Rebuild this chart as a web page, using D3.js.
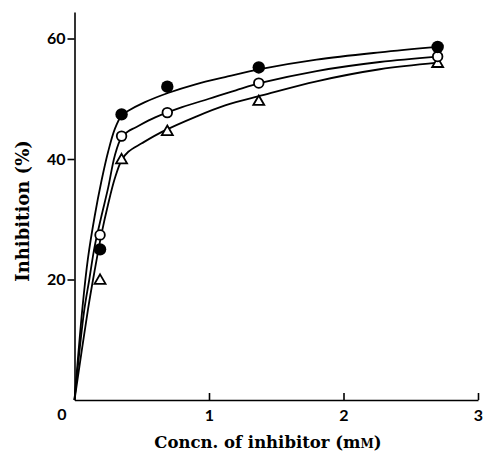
<!DOCTYPE html>
<html lang="en">
<head>
    <meta charset="UTF-8">
    <title>Inhibition vs. concentration of inhibitor</title>
    <style>
        body { margin: 0; background: #fff; }
        #chart { width: 483px; height: 453px; }
        .axis path, .axis line { stroke: #000; stroke-width: 1.6; }
        .axis text { font-family: Lato, "Open Sans", sans-serif; font-size: 16px; font-weight: bold; fill: #000; }
        .title { font-family: "DejaVu Serif", serif; font-weight: bold; fill: #000; }
        .curve { fill: none; stroke: #000; stroke-width: 1.8; }
    </style>
</head>
<body>
    <div id="chart"></div>
    <script src="https://cdnjs.cloudflare.com/ajax/libs/d3/7.8.5/d3.min.js"></script>
    <script>
        // measured points
        const concn = [0.19, 0.35, 0.69, 1.37, 2.70];
        const filledPts = [25.0, 47.4, 52.0, 55.2, 58.6];
        const openPts = [27.4, 43.8, 47.7, 52.6, 57.0];
        const trianglePts = [19.8, 39.8, 44.5, 49.5, 55.8];

        // hand-drawn curves
        const filledCurveX = [0, 0.06, 0.1, 0.15, 0.2, 0.25, 0.3, 0.35, 0.4, 0.52, 0.7, 0.9, 1.12, 1.4, 1.8, 2.27, 2.7];
        const filledCurveY = [0, 15.5, 23.5, 30.5, 36.3, 41.2, 45.0, 47.2, 48.0, 49.4, 51.0, 52.4, 53.6, 55.0, 56.5, 57.7, 58.6];
        const openCurveX = [0, 0.07, 0.11, 0.15, 0.2, 0.25, 0.3, 0.35, 0.4, 0.45, 0.6, 0.8, 1.0, 1.2, 1.4, 1.8, 2.27, 2.7];
        const openCurveY = [0, 14.5, 20.0, 25.5, 30.5, 35.2, 40.6, 43.6, 44.6, 45.2, 46.9, 48.6, 50.0, 51.4, 52.7, 54.6, 56.1, 57.0];
        const triangleCurveX = [0, 0.1, 0.15, 0.2, 0.25, 0.3, 0.35, 0.4, 0.5, 0.65, 0.9, 1.12, 1.4, 1.8, 2.27, 2.7];
        const triangleCurveY = [0, 15.0, 21.5, 27.5, 32.5, 36.8, 39.8, 41.2, 42.6, 44.5, 47.0, 48.9, 50.6, 52.9, 54.9, 56.0];

        const xTicks = [1, 2, 3];
        const yTicks = [20, 40, 60];

        const width = 483, height = 453;
        const svg = d3.select("#chart").append("svg")
            .attr("width", width)
            .attr("height", height);

        const x = d3.scaleLinear().domain([0, 3]).range([74.5, 478]);
        const y = d3.scaleLinear().domain([0, 64.4]).range([400, 12]);

        svg.append("g")
            .attr("class", "axis")
            .attr("transform", "translate(0,400)")
            .call(d3.axisBottom(x).tickValues(xTicks).tickSizeInner(-7).tickSizeOuter(0)
                .tickPadding(10).tickFormat(d3.format("d")));

        svg.append("g")
            .attr("class", "axis")
            .attr("transform", "translate(74.5,0)")
            .call(d3.axisLeft(y).tickValues(yTicks).tickSizeInner(7).tickSizeOuter(0)
                .tickPadding(2).tickFormat(d3.format("d")));

        svg.append("text")
            .attr("x", 62).attr("y", 420)
            .attr("text-anchor", "middle")
            .style("font-family", "Lato, sans-serif")
            .style("font-size", "16px")
            .style("font-weight", "bold")
            .text("0");

        const line = d3.line()
            .x(d => x(d[0]))
            .y(d => y(d[1]))
            .curve(d3.curveCatmullRom.alpha(0.5));

        [[filledCurveX, filledCurveY], [openCurveX, openCurveY], [triangleCurveX, triangleCurveY]]
            .forEach(function(c) {
                svg.append("path")
                    .attr("class", "curve")
                    .attr("d", line(d3.zip(c[0], c[1])));
            });

        // triangles
        svg.selectAll(".tri")
            .data(d3.zip(concn, trianglePts))
            .enter().append("path")
            .attr("class", "tri")
            .attr("d", d3.symbol(d3.symbolTriangle, 52))
            .attr("transform", d => `translate(${x(d[0])},${y(d[1])})`)
            .attr("fill", "#fff")
            .attr("stroke", "#000")
            .attr("stroke-width", 1.8);

        // open circles
        svg.selectAll(".open")
            .data(d3.zip(concn, openPts))
            .enter().append("circle")
            .attr("class", "open")
            .attr("cx", d => x(d[0]))
            .attr("cy", d => y(d[1]))
            .attr("r", 4.8)
            .attr("fill", "#fff")
            .attr("stroke", "#000")
            .attr("stroke-width", 1.8);

        // filled circles
        svg.selectAll(".filled")
            .data(d3.zip(concn, filledPts))
            .enter().append("circle")
            .attr("class", "filled")
            .attr("cx", d => x(d[0]))
            .attr("cy", d => y(d[1]))
            .attr("r", 6.2)
            .attr("fill", "#000");

        const xt = svg.append("text")
            .attr("class", "title")
            .attr("x", 268).attr("y", 448)
            .attr("text-anchor", "middle")
            .style("font-size", "16.5px");
        xt.append("tspan").text("Concn. of inhibitor (m");
        xt.append("tspan").style("font-size", "12px").text("M");
        xt.append("tspan").text(")");

        svg.append("text")
            .attr("class", "title")
            .attr("transform", "translate(29,211) rotate(-90)")
            .attr("text-anchor", "middle")
            .style("font-size", "18px")
            .text("Inhibition (%)");
    </script>
</body>
</html>
